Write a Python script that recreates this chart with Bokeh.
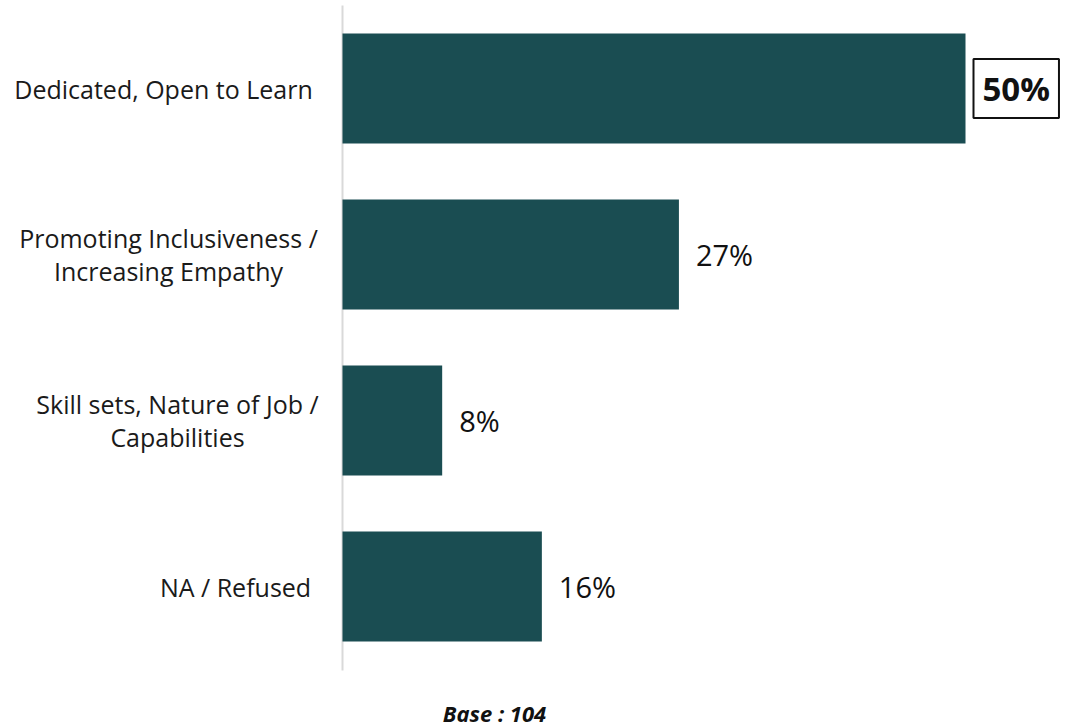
from bokeh.plotting import figure
from bokeh.models import Range1d, Label, ColumnDataSource
from bokeh.core.properties import value
from bokeh.embed import file_html
from bokeh.resources import INLINE

# ---- data ----
categories = ["Dedicated, Open to Learn",
              "Promoting Inclusiveness /\nIncreasing Empathy",
              "Skill sets, Nature of Job /\nCapabilities",
              "NA / Refused"]
values = [50, 27, 8, 16]
value_labels = ["50%", "27%", "8%", "16%"]
highlight = [True, False, False, False]
base_label = "Base :"
base_value = "104"

# ---- layout helpers (pixel geometry) ----
W, H = 1068, 728
PX_PER_UNIT_X = 12.46       # px per percent
ZERO_PX = 342               # x pixel of 0 within figure
ROW_PX = 166                # px between rows
FIRST_ROW_PX = 88           # y pixel (from top) of first row centre

def dx(px):
    return (px - ZERO_PX) / PX_PER_UNIT_X

def dy(py):
    return (len(categories) - 1) - (py - FIRST_ROW_PX) / ROW_PX

ys = [len(categories) - 1 - i for i in range(len(categories))]
label_centres_px = [163, 168, 177, 235]

BAR = "#1a4d52"
FONT = "Open Sans"

p = figure(width=W, height=H, output_backend="svg", toolbar_location=None,
           x_range=Range1d(dx(0), dx(W)), y_range=Range1d(dy(H), dy(0)),
           min_border=0, min_border_left=0, min_border_right=0,
           min_border_top=0, min_border_bottom=0, outline_line_color=None)
p.axis.visible = False
p.grid.visible = False
p.background_fill_color = "white"
p.border_fill_color = "white"

# axis line
p.segment(x0=[0], y0=[dy(5)], x1=[0], y1=[dy(670)], line_color="#d9d9d9", line_width=2)

src = ColumnDataSource(dict(y=ys, v=values, lab=value_labels, cat=categories,
                            cx=[dx(c) for c in label_centres_px]))
p.hbar(y="y", left=0, right="v", height=110 / ROW_PX, source=src,
       fill_color=BAR, line_color=None)

# category labels
p.text(x="cx", y="y", text="cat", source=src, text_align="center",
       text_baseline="middle", text_font=value(FONT), text_font_size="25px",
       text_color="#1a1a1a", text_line_height=0.98)

# value labels
normal = ColumnDataSource(dict(
    x=[v for v, h in zip(values, highlight) if not h],
    y=[y for y, h in zip(ys, highlight) if not h],
    t=[l for l, h in zip(value_labels, highlight) if not h]))
p.text(x="x", y="y", text="t", source=normal, x_offset=17,
       text_baseline="middle", text_font=value(FONT), text_font_size="29px",
       text_color="#111111")

for v, y, l, h in zip(values, ys, value_labels, highlight):
    if h:
        p.add_layout(Label(x=v, y=y, text=l, x_offset=8, text_baseline="middle",
                           text_font=FONT, text_font_size="33px", text_font_style="bold",
                           text_color="#111111", border_line_color="#111111",
                           border_line_width=2,
                           padding=dict(left=9, right=9, top=7, bottom=7),
                           background_fill_color="white"))

# base note
p.text(x=[dx(494)], y=[dy(712)], text=[base_label + " " + base_value], text_align="center",
       text_baseline="middle", text_font=value(FONT), text_font_size="22px",
       text_font_style="bold italic", text_color="#111111")

open("out.html", "w").write(file_html(p, INLINE))
